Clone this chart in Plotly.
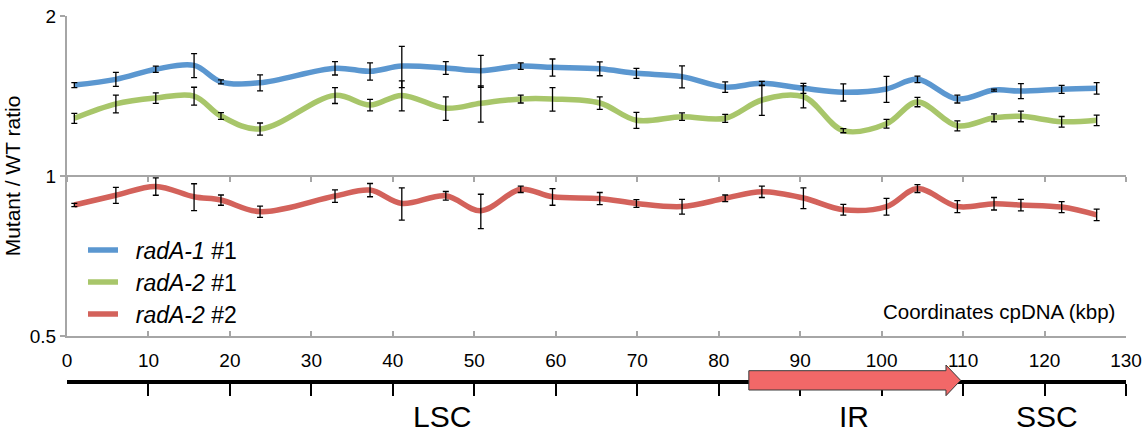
import plotly.graph_objects as go
import math

# ---------------- data ----------------
positions_kbp = [0.9, 6.0, 10.9, 15.6, 18.9, 23.7, 32.9, 37.2, 41.1, 46.5, 50.8, 55.7, 59.6, 65.4,
                 69.9, 75.5, 80.8, 85.3, 90.4, 95.3, 100.6, 104.4, 109.3, 113.8, 117.1, 122.1, 126.4]

radA1_1 = [1.483, 1.520, 1.588, 1.615, 1.504, 1.498, 1.595, 1.574, 1.610, 1.597, 1.578, 1.610, 1.601, 1.592,
           1.560, 1.538, 1.470, 1.494, 1.462, 1.437, 1.458, 1.520, 1.396, 1.451, 1.445, 1.456, 1.462]
radA1_1_err = [0.016, 0.046, 0.021, 0.084, 0.013, 0.052, 0.046, 0.059, 0.143, 0.044, 0.109, 0.023, 0.059, 0.048,
               0.034, 0.073, 0.034, 0.013, 0.032, 0.053, 0.082, 0.022, 0.024, 0.006, 0.047, 0.025, 0.036]

radA2_1 = [1.284, 1.367, 1.402, 1.414, 1.297, 1.226, 1.418, 1.360, 1.418, 1.341, 1.370, 1.396, 1.396, 1.372,
           1.273, 1.293, 1.284, 1.390, 1.410, 1.217, 1.254, 1.378, 1.243, 1.287, 1.295, 1.265, 1.273]
radA2_1_err = [0.028, 0.053, 0.032, 0.055, 0.019, 0.032, 0.049, 0.034, 0.092, 0.068, 0.107, 0.024, 0.071, 0.037,
               0.044, 0.021, 0.022, 0.090, 0.067, 0.011, 0.024, 0.028, 0.027, 0.022, 0.030, 0.029, 0.029]

radA2_2 = [0.882, 0.920, 0.956, 0.914, 0.901, 0.857, 0.917, 0.941, 0.888, 0.918, 0.860, 0.944, 0.914, 0.907,
           0.888, 0.876, 0.908, 0.934, 0.909, 0.864, 0.876, 0.947, 0.876, 0.887, 0.882, 0.874, 0.845]
radA2_2_err = [0.006, 0.032, 0.036, 0.053, 0.020, 0.021, 0.025, 0.027, 0.062, 0.017, 0.064, 0.013, 0.033, 0.024,
               0.015, 0.028, 0.013, 0.023, 0.041, 0.020, 0.032, 0.016, 0.023, 0.024, 0.022, 0.021, 0.021]

series_names = ["<i>radA-1</i> #1", "<i>radA-2</i> #1", "<i>radA-2</i> #2"]
series_colors = ["#5B97D0", "#A8C66A", "#D3625B"]

x_ticks = [0, 10, 20, 30, 40, 50, 60, 70, 80, 90, 100, 110, 120, 130]
y_ticks = [0.5, 1, 2]
y_ticktext = ["0.5", "1", "2"]

region_names = ["LSC", "IR", "SSC"]
region_label_kbp = [46.0, 96.6, 120.3]
ir_start_kbp = 83.7
ir_end_kbp = 109.7

# ---------------- figure ----------------
FONT = "Liberation Sans, Arial, sans-serif"
GRAY = "#A6A6A6"
W, H = 1147, 433
ML, MR, MT, MB = 67, 21, 16, 0
PH = H - MT - MB


def py(px):
    """pixel row -> paper y"""
    return (H - MB - px) / PH


main_dom = [py(336), 1.0]

fig = go.Figure()

values = [radA1_1, radA2_1, radA2_2]
errors = [radA1_1_err, radA2_1_err, radA2_2_err]
legends = ["legend", "legend2", "legend3"]

for name, vals, col, lg in zip(series_names, values, series_colors, legends):
    fig.add_trace(go.Scatter(
        x=positions_kbp, y=vals, mode="lines", name="&nbsp;&nbsp;" + name,
        line=dict(color=col, width=5.5, shape="spline", smoothing=1.0),
        legend=lg, hoverinfo="skip"))

for vals, errs in zip(values, errors):
    fig.add_trace(go.Scatter(
        x=positions_kbp, y=vals, mode="markers", showlegend=False,
        marker=dict(size=1, opacity=0),
        error_y=dict(type="data", array=errs, visible=True, color="black",
                     thickness=1.3, width=3),
        hoverinfo="skip"))

# dummy traces for helper axes
fig.add_trace(go.Scatter(x=[0], y=[1], xaxis="x3", yaxis="y", mode="markers",
                         marker=dict(opacity=0), showlegend=False, hoverinfo="skip"))
fig.add_trace(go.Scatter(x=[0], y=[0], xaxis="x2", yaxis="y2", mode="markers",
                         marker=dict(opacity=0), showlegend=False, hoverinfo="skip"))

fig.update_layout(
    width=W, height=H,
    margin=dict(l=ML, r=MR, t=MT, b=MB),
    paper_bgcolor="white", plot_bgcolor="white",
    font=dict(family=FONT, color="black"),
    xaxis=dict(range=[0, 130], tickvals=x_ticks, showline=True, linecolor=GRAY, linewidth=2,
               ticks="inside", ticklen=5, tickcolor=GRAY, tickwidth=1.5,
               showgrid=False, zeroline=False, tickfont=dict(size=19, family=FONT),
               ticklabelstandoff=6, automargin=False, anchor="y"),
    yaxis=dict(type="log", range=[math.log10(0.5), math.log10(2)], domain=main_dom,
               tickvals=y_ticks, ticktext=y_ticktext, showline=True, linecolor=GRAY, linewidth=2,
               ticks="outside", ticklen=5, tickcolor=GRAY, tickwidth=1.5,
               showgrid=True, gridcolor=GRAY, gridwidth=2, zeroline=False,
               tickfont=dict(size=19, family=FONT),
               title=dict(text="Mutant / WT ratio", font=dict(size=21, family=FONT), standoff=3),
               automargin=False, anchor="x"),
    xaxis3=dict(range=[0, 130], overlaying="x", anchor="free",
                position=(main_dom[0] + main_dom[1]) / 2, tickvals=x_ticks,
                showline=True, linecolor=GRAY, linewidth=2, ticks="outside", ticklen=5,
                tickcolor=GRAY, tickwidth=1.5, showticklabels=False, showgrid=False,
                zeroline=False, automargin=False),
    xaxis2=dict(range=[0, 130], anchor="y2", tickvals=x_ticks[1:], showline=True,
                linecolor="black", linewidth=3.5, ticks="outside", ticklen=12,
                tickcolor="black", tickwidth=1.5, showticklabels=False, showgrid=False,
                zeroline=False, automargin=False),
    yaxis2=dict(domain=[py(380), py(370)], visible=False, range=[0, 1], anchor="x2"),
)

# legends (one per series, to control spacing)
legend_rows_px = [250, 282, 314]
for lg, row in zip(legends, legend_rows_px):
    fig.update_layout(**{lg: dict(x=(83 - ML) / (W - ML - MR), y=py(row), xanchor="left",
                                  yanchor="middle", bgcolor="rgba(0,0,0,0)",
                                  font=dict(size=23, family=FONT, color="black"))})

# axis caption
fig.add_annotation(text="Coordinates cpDNA (kbp)", x=128.9, y=py(311.5), xref="x", yref="paper",
                   xanchor="right", yanchor="middle", showarrow=False,
                   font=dict(size=20.5, family=FONT))

# IR arrow
head = 1.8
fig.add_shape(type="path", xref="x", yref="paper", layer="above",
              path=(f"M {ir_start_kbp},{py(390)} L {ir_end_kbp - head},{py(390)} "
                    f"L {ir_end_kbp - head},{py(395.7)} L {ir_end_kbp},{py(380.3)} "
                    f"L {ir_end_kbp - head},{py(365)} L {ir_end_kbp - head},{py(370.7)} "
                    f"L {ir_start_kbp},{py(370.7)} Z"),
              fillcolor="#F26868", line=dict(color="#3a3a3a", width=1))

for nm, xk in zip(region_names, region_label_kbp):
    fig.add_annotation(text=nm, x=xk, y=py(416), xref="x", yref="paper",
                       xanchor="center", yanchor="middle", showarrow=False,
                       font=dict(size=30, family=FONT, color="black"))

fig.write_html("out.html", config={"displayModeBar": False},
               post_script="document.body.style.margin='0px';document.body.style.overflow='hidden';")
